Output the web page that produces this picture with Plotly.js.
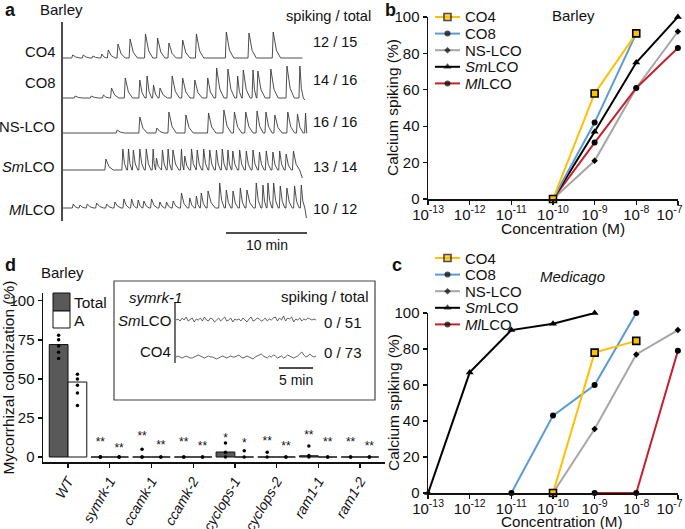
<!DOCTYPE html>
<html>
<head>
<meta charset="utf-8">
<script src="https://cdn.plot.ly/plotly-3.0.1.min.js"></script>
<style>
  html, body { margin: 0; padding: 0; background: #fff; }
  #fig { width: 685px; height: 529px; }
</style>
</head>
<body>
<div id="fig"></div>
<script>
// ---- panel a: calcium traces (spike time in min, spike height)
var aNames = ['CO4', 'CO8', 'NS-LCO', '<i>Sm</i>LCO', '<i>Ml</i>LCO'];
var aRatios = ['12 / 15', '14 / 16', '16 / 16', '13 / 14', '10 / 12'];
var co4Times = [1.2, 2.5, 3.7, 4.8, 5.6, 6.8, 8.3, 10.2, 11.7, 13.1, 14.8, 16.5, 20.2, 23.0, 26.0];
var co4Heights = [3, 3, 2, 4, 8, 14, 19, 24, 20, 15, 18, 24, 26, 25, 26];
var co8Times = [1.5, 3.5, 5.0, 6.0, 7.7, 9.5, 10.4, 11.2, 12.0, 13.5, 14.8, 16.3, 17.9, 19.0, 20.4, 21.6, 22.3, 23.5, 24.1, 25.7, 27.7, 29.3];
var co8Heights = [2, 2, 3, 10, 20, 18, 22, 13, 10, 22, 20, 18, 20, 30, 29, 22, 28, 28, 27, 29, 32, 32];
var nsTimes = [6.7, 9.5, 11.6, 13.1, 15.2, 18.0, 19.9, 21.2, 22.6, 24.0, 25.1, 26.2, 27.8, 29.0, 30.0];
var nsHeights = [3, 16, 5, 21, 18, 20, 23, 21, 21, 22, 21, 18, 21, 19, 20];
var smTimes = [5.3, 7.4, 8.1, 8.7, 9.5, 10.3, 11.15, 11.56, 12.3, 13.0, 13.6, 14.65, 15.06, 15.9, 16.6, 17.4, 18.15, 18.97, 19.7, 20.4, 21.0, 21.85, 22.67, 23.5, 24.3, 25.14, 25.96, 26.8, 27.6, 28.5];
var smHeights = [11, 21, 21, 20, 21, 21, 21, 12, 20, 21, 20, 21, 14, 21, 20, 21, 20, 20, 21, 20, 19, 20, 19, 20, 18, 19, 18, 19, 16, 19];
var mlTimes = [1.27, 2.1, 3.0, 4.16, 5.4, 6.42, 7.53, 8.48, 9.3, 10.0, 10.95, 11.98, 12.8, 13.62, 14.65, 15.68, 16.5, 17.1, 17.94, 19.38, 20.2, 21.03, 21.93, 22.75, 23.9, 24.73, 25.35, 26.05, 26.87, 27.69, 28.64, 29.47];
var mlHeights = [4, 3, 4, 5, 4, 6, 9, 9, 8, 7, 9, 6, 6, 7, 15, 10, 12, 15, 17, 25, 18, 17, 20, 18, 25, 23, 25, 25, 22, 20, 22, 23];
var aEnds = [29.6, 29.9, 30.2, 29.6, 30.1];
var aEndDrop = [0, 2, 0, 8, 10];

// inset of panel d: symrk-1 traces (no spiking), baseline wiggle
var insetNames = ['<i>Sm</i>LCO', 'CO4'];
var insetRatios = ['0 / 51', '0 / 73'];
var insetSm = [0, 1, -1, 2, 0, 3, -1, 1, 2, -2, 1, 0, 2, -1, 3, 0, -1, 2, 1, -2, 0, 2, -1, 1, 3, -1, 0, 2, -2, 1, 0, 1, -1, 2, 0, -2, 1, 3, -1, 0, 2, 1, -1, 0, 2, -1, 1, 0, 2, 3, -1, 2, 0, 4, -1, 2, 1, 3, -2, 1, 0, 2, -1, 1, 0, 2, 1, 0, 1, 0];
var insetCo4 = [0, 1, 0, -1, 0, 1, 0, -1, -1, 0, 1, 2, 1, 0, -1, 0, 1, 0, 0, -1, -2, -1, 0, 1, 0, -1, 0, 1, 0, 0, 1, 2, 0, -1, 0, 1, 0, -1, -2, 0, 1, 2, 3, 1, 0, -1, 1, 0, 2, 1, -1, 0, 1, -1, 0, 2, 1, 0, -1, 0, 1, 3, 5, 2, 0, 1, 3, 1, 0, 1];

// ---- panels b, c: dose response (Calcium spiking %)
var seriesNames = ['CO4', 'CO8', 'NS-LCO', '<i>Sm</i>LCO', '<i>Ml</i>LCO'];
var bConc = [[1e-10, 1e-9, 1e-8], [1e-10, 1e-9, 1e-8], [1e-10, 1e-9, 1e-8, 1e-7], [1e-10, 1e-9, 1e-8, 1e-7], [1e-10, 1e-9, 1e-8, 1e-7]];
var bSpiking = [[0, 58, 91], [0, 42, 91], [0, 21, 61, 92], [0, 37, 75, 100], [0, 31, 61, 83]];
var cConc = [[1e-10, 1e-9, 1e-8], [1e-11, 1e-10, 1e-9, 1e-8], [1e-10, 1e-9, 1e-8, 1e-7], [1e-13, 1e-12, 1e-11, 1e-10, 1e-9], [1e-9, 1e-8, 1e-7]];
var cSpiking = [[0, 78, 84.5], [0, 43, 60, 100], [0, 35.5, 77, 90.5], [0, 67, 90.5, 94, 100], [0, 0, 79]];
var concTicks = [1e-13, 1e-12, 1e-11, 1e-10, 1e-9, 1e-8, 1e-7];
var concTickText = ['10<sup>-13</sup>', '10<sup>-12</sup>', '10<sup>-11</sup>', '10<sup>-10</sup>', '10<sup>-9</sup>', '10<sup>-8</sup>', '10<sup>-7</sup>&nbsp;&nbsp;&nbsp;&nbsp;'];

// ---- panel d: mycorrhizal colonization (%)
var genotypes = ['WT', 'symrk-1', 'ccamk-1', 'ccamk-2', 'cyclops-1', 'cyclops-2', 'ram1-1', 'ram1-2'];
var totalMean = [72, 0, 0, 0, 3.2, 0, 0.8, 0];
var arbMean = [48, 0, 0, 0, 0, 0, 0, 0];
var totalDots = [[78, 75, 71, 67, 63], [0, 0, 0], [5, 0, 0], [0, 0], [9, 3, 0], [3, 0], [7, 1, 0], [0, 0]];
var arbDots = [[53, 50, 46, 41, 33], [0, 0, 0], [0, 0], [0, 0], [4, 0], [0, 0], [0, 0], [0, 0]];
var totalStars = ['', '**', '**', '**', '*', '**', '**', '**'];
var arbStars = ['', '**', '**', '**', '*', '**', '**', '**'];
var totalStarY = [0, 11.5, 15.4, 11.5, 14, 12, 16, 11.5];
var arbStarY = [0, 7.7, 9.6, 9, 11, 9, 11.5, 9];

// ---- styling / placement
var W = 685, H = 529;
var FONT = 'Liberation Sans, Arial, sans-serif';
var INK = '#111';
var seriesColors = ['#FFC000', '#5B9BD5', '#A6A6A6', '#000000', '#C8202A'];
var seriesSymbols = ['square', 'circle', 'diamond', 'triangle-up', 'circle'];
var seriesSizes = [7, 6, 5, 7, 6];
var drawOrder = [2, 4, 3, 1, 0];
function P(x) { return x / W; }
function Q(y) { return 1 - y / H; }

var annotations = [], shapes = [], traces = [];
function label(text, x, y, size, anchor, extra) {
  var a = { text: text, x: P(x), y: Q(y), xref: 'paper', yref: 'paper', showarrow: false,
    xanchor: anchor || 'left', yanchor: 'middle', font: { family: FONT, size: size || 14, color: INK } };
  if (extra) Object.assign(a, extra);
  annotations.push(a);
}
function rule(x0, y0, x1, y1, w) {
  shapes.push({ type: 'line', xref: 'paper', yref: 'paper', x0: P(x0), y0: Q(y0), x1: P(x1), y1: Q(y1),
    line: { color: INK, width: w || 1.3 } });
}
function markerStyle(i) {
  return { symbol: seriesSymbols[i], size: seriesSizes[i], color: i === 0 ? seriesColors[0] : '#000',
    line: { color: '#000', width: i === 0 ? 1.6 : 0 } };
}

// panel a traces
function spikeLine(times, heights, base, tEnd, endDrop) {
  var x = [0], y = [base];
  for (var i = 0; i < times.length; i++) {
    var t = times[i], h = heights[i];
    var next = i + 1 < times.length ? times[i + 1] : tEnd;
    var gap = Math.min(next - t, 1.3);
    x.push(t - 0.12, t, t + gap * 0.3, t + gap * 0.7);
    y.push(base, base + h, base + h * 0.3, base);
  }
  x.push(tEnd); y.push(base - endDrop);
  return { x: x, y: y };
}
var aTimes = [co4Times, co8Times, nsTimes, smTimes, mlTimes];
var aHeights = [co4Heights, co8Heights, nsHeights, smHeights, mlHeights];
var aBase = [167, 127, 92, 55, 17];
var aLabelY = [52, 83, 127, 167, 210];
var aRatioY = [42, 80, 122, 167, 209];
for (var i = 0; i < 5; i++) {
  var s = spikeLine(aTimes[i], aHeights[i], aBase[i], aEnds[i], aEndDrop[i]);
  traces.push({ x: s.x, y: s.y, xaxis: 'x4', yaxis: 'y4', type: 'scatter', mode: 'lines',
    line: { color: '#3a3a3a', width: 0.9 }, showlegend: false, hoverinfo: 'skip' });
  label(aNames[i], 57, aLabelY[i], 14.8, 'right');
  label(aRatios[i], 311, aRatioY[i], 14.5, 'left');
}
rule(62, 22, 62, 221, 1.5);
rule(226, 233, 307, 233, 1.3);
label('10 min', 267, 245, 14, 'center');
label('<b>a</b>', 3, 10, 18, 'left');
label('Barley', 38, 10, 15, 'left');
label('spiking / total', 284, 16, 14.6, 'left');

// panels b and c
for (var k = 0; k < drawOrder.length; k++) {
  var j = drawOrder[k];
  traces.push({ x: bConc[j], y: bSpiking[j], xaxis: 'x', yaxis: 'y', type: 'scatter', mode: 'lines+markers',
    line: { color: seriesColors[j], width: 2 }, marker: markerStyle(j), cliponaxis: false, showlegend: false });
  traces.push({ x: cConc[j], y: cSpiking[j], xaxis: 'x2', yaxis: 'y2', type: 'scatter', mode: 'lines+markers',
    line: { color: seriesColors[j], width: 2 }, marker: markerStyle(j), cliponaxis: false, showlegend: false });
}
// hand-placed legend keys (overlay axis in pixel units)
function legendKeys(x0, y0, step) {
  for (var i = 0; i < seriesNames.length; i++) {
    var yy = y0 + i * step;
    var m = markerStyle(i);
    traces.push({ x: [x0, x0 + 12.5, x0 + 25], y: [yy, yy, yy], xaxis: 'x6', yaxis: 'y6', type: 'scatter',
      mode: 'lines+markers', line: { color: seriesColors[i], width: 2 },
      marker: { symbol: m.symbol, size: [0, m.size, 0], color: m.color, line: m.line },
      cliponaxis: false, showlegend: false, hoverinfo: 'skip' });
    label(seriesNames[i], x0 + 28, yy, 15, 'left');
  }
}
legendKeys(435, 17, 16.6);
legendKeys(435, 258, 16.6);
label('<b>b</b>', 383, 10, 18, 'left');
label('Barley', 573, 15, 15, 'center');
label('<b>c</b>', 390, 265, 18, 'left');
label('<i>Medicago</i>', 572, 276, 15, 'center');
// axis titles for b and c
label('Concentration (M)', 563, 228, 15.5, 'center');
label('Concentration (M)', 562, 521, 15.2, 'center');
label('Calcium spiking (%)', 393, 108, 15.5, 'center', { textangle: -90 });
label('Calcium spiking (%)', 393, 403, 15.5, 'center', { textangle: -90 });

// panel d bars, dots, stars
var xT = genotypes.map(function (g, i) { return i + 1 - 0.225; });
var xA = genotypes.map(function (g, i) { return i + 1 + 0.225; });
traces.push({ x: xT, y: totalMean, xaxis: 'x3', yaxis: 'y3', type: 'bar', width: 0.45,
  marker: { color: '#595959', line: { color: '#111', width: 1 } }, showlegend: false });
traces.push({ x: xA, y: arbMean, xaxis: 'x3', yaxis: 'y3', type: 'bar', width: 0.45,
  marker: { color: '#ffffff', line: { color: '#111', width: 1 } }, showlegend: false });
var dotX = [], dotY = [];
genotypes.forEach(function (g, i) {
  totalDots[i].forEach(function (v) { dotX.push(xT[i]); dotY.push(v); });
  arbDots[i].forEach(function (v) { dotX.push(xA[i]); dotY.push(v); });
});
traces.push({ x: dotX, y: dotY, xaxis: 'x3', yaxis: 'y3', type: 'scatter', mode: 'markers',
  marker: { color: '#000', size: 3.5 }, cliponaxis: false, showlegend: false });
var starLift = 2.5;
var starX = [], starY = [], starText = [];
genotypes.forEach(function (g, i) {
  if (totalStars[i]) { starX.push(xT[i]); starY.push(totalStarY[i] - starLift); starText.push(totalStars[i]); }
  if (arbStars[i]) { starX.push(xA[i]); starY.push(arbStarY[i] - starLift); starText.push(arbStars[i]); }
});
traces.push({ x: starX, y: starY, text: starText, xaxis: 'x3', yaxis: 'y3', type: 'scatter', mode: 'text',
  textposition: 'middle center', textfont: { family: FONT, size: 12, color: INK }, cliponaxis: false,
  showlegend: false, hoverinfo: 'skip' });

label('<b>d</b>', 3, 265, 18, 'left');
label('Barley', 62, 272, 15, 'center');
// d legend
shapes.push({ type: 'rect', xref: 'paper', yref: 'paper', x0: P(53), x1: P(70), y0: Q(311), y1: Q(293),
  fillcolor: '#595959', line: { color: INK, width: 1 } });
shapes.push({ type: 'rect', xref: 'paper', yref: 'paper', x0: P(53), x1: P(70), y0: Q(328), y1: Q(311),
  fillcolor: '#ffffff', line: { color: INK, width: 1 } });
traces.push({ x: [61.5, 61.5], y: [302, 319.5], xaxis: 'x6', yaxis: 'y6', type: 'scatter', mode: 'markers',
  marker: { color: '#000', size: 3 }, showlegend: false, hoverinfo: 'skip' });
label('Total', 72, 302, 15.5, 'left');
label('A', 72, 320, 15.5, 'left');

// inset box
shapes.push({ type: 'rect', xref: 'paper', yref: 'paper', x0: P(114), x1: P(375), y0: Q(400), y1: Q(281),
  fillcolor: '#ffffff', line: { color: '#444', width: 1.2 }, layer: 'below' });
var insetBase = [45, 8];
[insetSm, insetCo4].forEach(function (vals, i) {
  traces.push({ x: vals.map(function (v, k) { return k; }), y: vals.map(function (v) { return insetBase[i] + v; }),
    xaxis: 'x5', yaxis: 'y5', type: 'scatter', mode: 'lines', line: { color: '#3a3a3a', width: 0.8 },
    showlegend: false, hoverinfo: 'skip' });
});
label('<i>symrk-1</i>', 127, 297, 15, 'left');
label('spiking / total', 371, 296, 15, 'right');
label(insetNames[0], 173, 320, 15, 'right');
label(insetNames[1], 173, 351, 15, 'right');
label(insetRatios[0], 322, 322, 15, 'left');
label(insetRatios[1], 322, 352, 15, 'left');
rule(175, 302, 175, 363, 1.2);
rule(279, 368, 313, 368, 1.3);
label('5 min', 296, 380, 14, 'center');

// axes
var tickFont = { family: FONT, size: 15, color: INK };
function doseX(domain, anchor) {
  return { domain: domain, type: 'log', range: [-13.003, -6.997], tickvals: concTicks, ticktext: concTickText,
    anchor: anchor, showline: true, linecolor: INK, linewidth: 1.5, ticks: 'outside', ticklen: 4, tickwidth: 1.3,
    tickcolor: INK, showgrid: false, zeroline: false, tickfont: tickFont, fixedrange: true,
    ticklabeloverflow: 'allow', ticklabelstandoff: -3 };
}
function doseY(domain, anchor) {
  return { domain: domain, range: [0, 100], tickvals: [0, 20, 40, 60, 80, 100], anchor: anchor,
    showline: true, linecolor: INK, linewidth: 1.5, ticks: 'outside', ticklen: 4, tickwidth: 1.3, tickcolor: INK,
    showgrid: false, zeroline: false, tickfont: tickFont, fixedrange: true };
}
var hidden = { visible: false, showgrid: false, zeroline: false, fixedrange: true };

var layout = {
  width: W, height: H, margin: { l: 0, r: 0, t: 0, b: 0 }, paper_bgcolor: '#fff', plot_bgcolor: 'rgba(0,0,0,0)',
  showlegend: false, font: { family: FONT, color: INK },
  xaxis: doseX([P(428), P(678)], 'y'),
  yaxis: doseY([Q(199), Q(17)], 'x'),
  xaxis2: doseX([P(428), P(678)], 'y2'),
  yaxis2: doseY([Q(493), Q(313)], 'x2'),
  xaxis3: { domain: [P(43), P(385)], range: [0.4, 8.6], anchor: 'y3', tickvals: genotypes.map(function (g, i) { return i + 1; }),
    ticktext: genotypes.map(function (g) { return '<i>' + g + '</i>'; }), tickangle: -60,
    showline: true, linecolor: INK, linewidth: 1.5, ticks: 'outside', ticklen: 4, tickwidth: 1.3, tickcolor: INK,
    showgrid: false, zeroline: false, tickfont: { family: FONT, size: 14, color: INK }, fixedrange: true,
    ticklabeloverflow: 'allow' },
  yaxis3: { domain: [Q(462), Q(293)], range: [-3.2, 105], anchor: 'x3', tickvals: [0, 25, 50, 75, 100],
    showline: true, linecolor: INK, linewidth: 1.5, ticks: 'outside', ticklen: 4, tickwidth: 1.3, tickcolor: INK,
    showgrid: false, zeroline: false, tickfont: tickFont, fixedrange: true,
    title: { text: 'Mycorrhizal colonization (%)', font: { family: FONT, size: 15.5, color: INK }, standoff: 2 } },
  xaxis4: Object.assign({ domain: [P(63), P(308)], range: [0, 30.3], anchor: 'y4' }, hidden),
  yaxis4: Object.assign({ domain: [Q(225), Q(20)], range: [0, 205], anchor: 'x4' }, hidden),
  xaxis5: Object.assign({ domain: [P(176), P(316)], range: [0, 69], anchor: 'y5' }, hidden),
  yaxis5: Object.assign({ domain: [Q(365), Q(305)], range: [0, 60], anchor: 'x5' }, hidden),
  xaxis6: Object.assign({ domain: [0, 1], range: [0, W], anchor: 'y6' }, hidden),
  yaxis6: Object.assign({ domain: [0, 1], range: [H, 0], anchor: 'x6' }, hidden),
  bargap: 0, barmode: 'overlay',
  shapes: shapes, annotations: annotations
};

Plotly.newPlot('fig', traces, layout, { staticPlot: true, displayModeBar: false });
</script>
</body>
</html>
